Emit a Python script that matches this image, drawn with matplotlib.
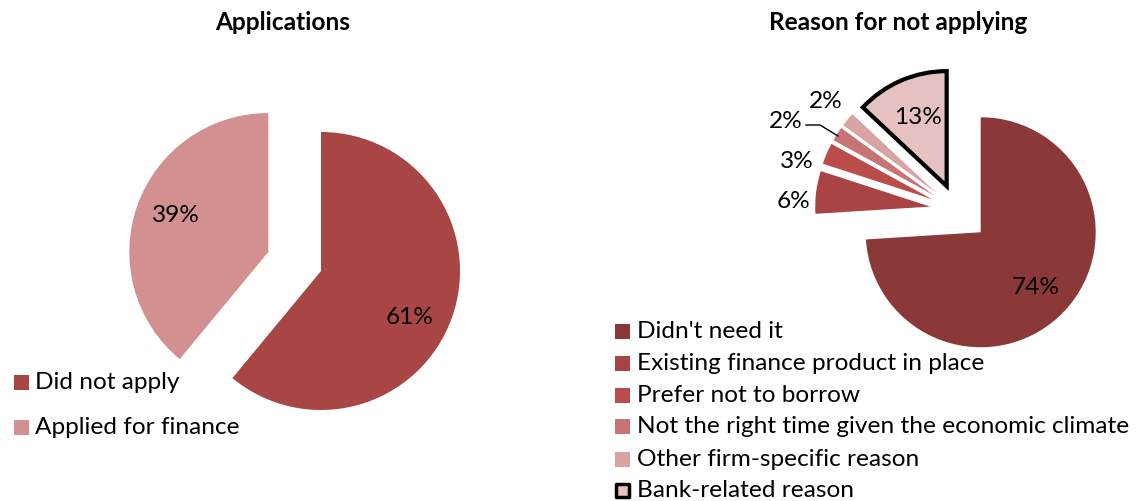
import matplotlib
matplotlib.use("Agg")
import matplotlib.pyplot as plt
from matplotlib.patches import Rectangle
from matplotlib.lines import Line2D

W, H = 1141, 502

# Applications
app_labels = ["Did not apply", "Applied for finance"]
app_values = [61, 39]
app_colors = ["#A84645", "#D29090"]

# Reasons for not applying
reason_labels = ["Didn't need it", "Existing finance product in place",
                 "Prefer not to borrow",
                 "Not the right time given the economic climate",
                 "Other firm-specific reason", "Bank-related reason"]
reason_values = [74, 6, 3, 2, 2, 13]
reason_colors = ["#8B3838", "#A84444", "#BA4D4A", "#C97474", "#D9A3A3", "#E5C1C2"]

FONT = "Lato"
FS = 17.6

fig = plt.figure(figsize=(W / 100, H / 100), dpi=100)
ax = fig.add_axes([0, 0, 1, 1])


def Y(y):
    return H - y


# Left pie (explode offsets are in data units, i.e. pixels here)
wl, _ = ax.pie(app_values, colors=app_colors, startangle=90, counterclock=False,
               center=(321, Y(272)), radius=139, explode=[0, 56],
               wedgeprops=dict(linewidth=0))

# Right pie
wr, _ = ax.pie(reason_values, colors=reason_colors, startangle=90, counterclock=False,
               center=(957, Y(211)), radius=115,
               explode=[32.5, 27, 27, 27, 27, 26],
               wedgeprops=dict(linewidth=0))
wr[-1].set_edgecolor("black")
wr[-1].set_linewidth(3.0)
wr[-1].set_joinstyle("miter")
wr[-1].set_zorder(3)

ax.set_xlim(0, W)
ax.set_ylim(0, H)
ax.set_aspect("auto")
ax.axis("off")

# Percentage labels
app_label_pos = [(410, 318), (176, 216)]
for v, (x, y) in zip(app_values, app_label_pos):
    ax.text(x, Y(y), f"{v}%", ha="center", va="center", fontsize=FS, family=FONT)

reason_label_pos = [(1036, 287), (793, 202), (797, 162), (786, 121), (826, 101), (918, 117)]
for v, (x, y) in zip(reason_values, reason_label_pos):
    ax.text(x, Y(y), f"{v}%", ha="center", va="center", fontsize=FS, family=FONT,
            zorder=5)

# Leader line for the small slice
ax.add_line(Line2D([806, 820, 838], [Y(126), Y(126), Y(137)], color="black", lw=1.0))

# Titles
ax.text(283, Y(22), "Applications", ha="center", va="center", fontsize=FS,
        fontweight="bold", family=FONT)
ax.text(898, Y(22), "Reason for not applying", ha="center", va="center", fontsize=FS,
        fontweight="bold", family=FONT)

# Legends
SQ = 15
for lab, col, yc in zip(app_labels, app_colors, [383, 428]):
    ax.add_patch(Rectangle((14, Y(yc) - SQ / 2), SQ, SQ, facecolor=col, lw=0))
    ax.text(35, Y(yc), lab, ha="left", va="center", fontsize=FS, family=FONT)

for i, (lab, col, yc) in enumerate(zip(reason_labels, reason_colors,
                                       [332, 364, 396, 427, 460, 491])):
    if i == len(reason_labels) - 1:
        ax.add_patch(Rectangle((616, Y(yc) - SQ / 2 + 1), SQ - 2, SQ - 2, facecolor=col,
                               edgecolor="black", lw=2.5, joinstyle="round"))
    else:
        ax.add_patch(Rectangle((615, Y(yc) - SQ / 2), SQ, SQ, facecolor=col, lw=0))
    ax.text(637, Y(yc), lab, ha="left", va="center", fontsize=FS, family=FONT)

fig.savefig("out.png", dpi=100)
